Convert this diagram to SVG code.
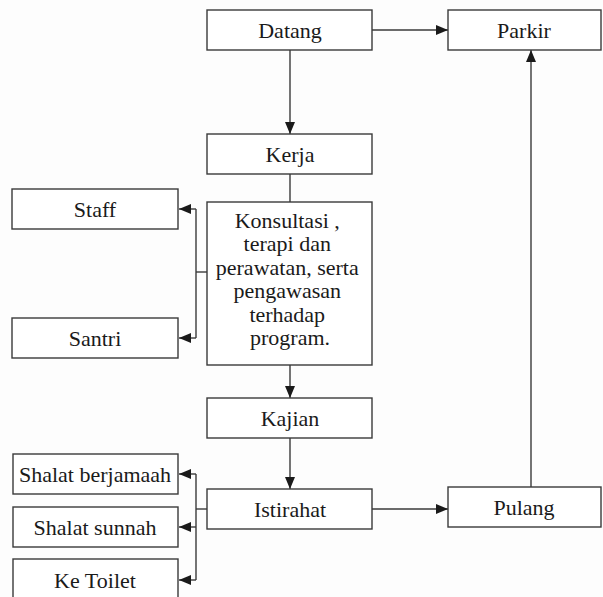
<svg xmlns="http://www.w3.org/2000/svg" width="603" height="597" viewBox="0 0 603 597">
  <defs>
    <marker id="arrow" viewBox="0 0 12 10" refX="12" refY="5" markerWidth="12" markerHeight="10" markerUnits="userSpaceOnUse" orient="auto">
      <path d="M0,0 L12,5 L0,10 Z" fill="#1a1a1a"/>
    </marker>
  </defs>
  <style>
    .box { fill: #ffffff; stroke: #3a3a3a; stroke-width: 1.4; }
    .lbl { font-family: "Liberation Serif", "Times New Roman", serif; font-size: 22px; fill: #1a1a1a; text-anchor: middle; }
    .edge { fill: none; stroke: #3a3a3a; stroke-width: 1.4; }
    .arr { marker-end: url(#arrow); }
  </style>
  <rect width="603" height="597" fill="#fdfdfd"/>

  <!-- connectors -->
  <g id="connectors">
    <path class="edge arr" d="M372,30 H448"/>
    <path class="edge arr" d="M290,50 V134"/>
    <path class="edge" d="M290,174 V202"/>
    <path class="edge arr" d="M290,365 V398"/>
    <path class="edge arr" d="M290,438 V489"/>
    <path class="edge arr" d="M372,509 H448"/>
    <path class="edge arr" d="M531,487 V50"/>
    <!-- Konsultasi branch -->
    <path class="edge" d="M207,272 H196"/>
    <path class="edge" d="M196,209 V338"/>
    <path class="edge arr" d="M196,209 H179"/>
    <path class="edge arr" d="M196,338 H179"/>
    <!-- Istirahat branch -->
    <path class="edge" d="M207,509 H196"/>
    <path class="edge" d="M196,474 V580"/>
    <path class="edge arr" d="M196,474 H179"/>
    <path class="edge arr" d="M196,527 H179"/>
    <path class="edge arr" d="M196,580 H179"/>
  </g>

  <g id="datang">
    <rect class="box" x="207" y="10" width="165" height="40"/>
    <text class="lbl" x="290" y="37.5">Datang</text>
  </g>
  <g id="parkir">
    <rect class="box" x="448" y="10" width="153" height="40"/>
    <text class="lbl" x="524" y="37.5">Parkir</text>
  </g>
  <g id="kerja">
    <rect class="box" x="207" y="134" width="165" height="40"/>
    <text class="lbl" x="290" y="161.5">Kerja</text>
  </g>
  <g id="konsultasi">
    <rect class="box" x="207" y="202" width="165" height="163"/>
    <text class="lbl">
      <tspan x="290" y="228">Konsultasi ,</tspan>
      <tspan x="290" y="251.4">terapi dan</tspan>
      <tspan x="290" y="274.8">perawatan, serta</tspan>
      <tspan x="290" y="298.2">pengawasan</tspan>
      <tspan x="290" y="321.6">terhadap</tspan>
      <tspan x="290" y="345">program.</tspan>
    </text>
  </g>
  <g id="staff">
    <rect class="box" x="12" y="189" width="166" height="40"/>
    <text class="lbl" x="95" y="216.5">Staff</text>
  </g>
  <g id="santri">
    <rect class="box" x="12" y="318" width="166" height="40"/>
    <text class="lbl" x="95" y="345.5">Santri</text>
  </g>
  <g id="kajian">
    <rect class="box" x="207" y="398" width="165" height="40"/>
    <text class="lbl" x="290" y="425.5">Kajian</text>
  </g>
  <g id="istirahat">
    <rect class="box" x="207" y="489" width="165" height="40"/>
    <text class="lbl" x="290" y="516.5">Istirahat</text>
  </g>
  <g id="pulang">
    <rect class="box" x="448" y="487" width="153" height="40"/>
    <text class="lbl" x="524" y="514.5">Pulang</text>
  </g>
  <g id="shalat-berjamaah">
    <rect class="box" x="13" y="454" width="165" height="40"/>
    <text class="lbl" x="95" y="481.5">Shalat berjamaah</text>
  </g>
  <g id="shalat-sunnah">
    <rect class="box" x="13" y="507" width="165" height="40"/>
    <text class="lbl" x="95" y="534.5">Shalat sunnah</text>
  </g>
  <g id="ke-toilet">
    <rect class="box" x="13" y="559" width="165" height="50"/>
    <text class="lbl" x="95" y="587.5">Ke Toilet</text>
  </g>
</svg>
